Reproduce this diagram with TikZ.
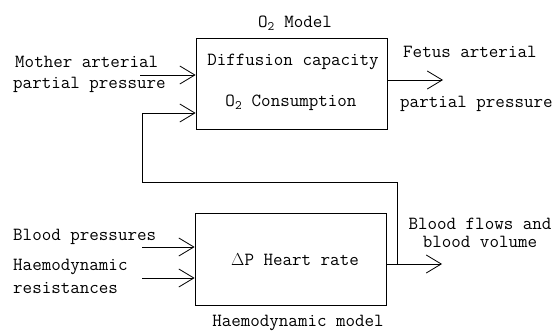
\documentclass[tikz,border=0pt]{standalone}
\usepackage{fontspec}
\usetikzlibrary{arrows.meta}
\begin{document}
\begin{tikzpicture}[x=1pt,y=-1pt,
  lbl/.style={inner sep=0pt,font=\ttfamily\fontsize{18.5}{20}\selectfont},
  blk/.style={draw,line width=0.8pt,inner sep=0pt},
  conn/.style={line width=0.8pt,-{Straight Barb[length=15pt,width=18pt,line width=0.8pt]}},
  wire/.style={line width=0.8pt}]
\useasboundingbox (0,0) rectangle (560,332);
% boxes
\node[blk,minimum width=191pt,minimum height=91pt] (top) at (291.5,83.5) {};
\node[blk,minimum width=191pt,minimum height=92pt] (bot) at (290.5,259) {};
% texts
\node[lbl] (t1) at (295,23) {O\textsubscript{2} Model};
\node[lbl] (t2) at (293,62) {Diffusion capacity};
\node[lbl] (t3) at (291,103) {O\textsubscript{2} Consumption};
\node[lbl,anchor=west] (ma) at (15,62) {Mother arterial};
\node[lbl,anchor=west] (pp) at (13,85) {partial pressure};
\node[lbl,anchor=west] (fa) at (403,52) {Fetus arterial};
\node[lbl,anchor=west] (pp2) at (400,104) {partial pressure};
\node[lbl,anchor=west] (bp) at (13,237) {Blood pressures};
\node[lbl,anchor=west] (hd) at (13,267) {Haemodynamic};
\node[lbl,anchor=west] (rs) at (13,288) {resistances};
\node[lbl] (hr) at (295,260) {$\Delta$P Heart rate};
\node[lbl] (hm) at (298,323) {Haemodynamic model};
\node[lbl,align=center] (bf) at (480,233) {Blood flows and\\[-2pt]blood volume};
% coordinates
\coordinate (a1) at (140,75);
\coordinate (a2) at (443,80);
\coordinate (b1) at (142,247);
\coordinate (b2) at (142,278);
\coordinate (b3) at (442,264);
\coordinate (f1) at (397,264);
\coordinate (f2) at (397,182);
\coordinate (f3) at (142,182);
\coordinate (f4) at (142,113);
% connectors
\draw[conn] (a1) -- (a1 -| top.west);
\draw[conn] (top.east |- a2) -- (a2);
\draw[conn] (b1) -- (b1 -| bot.west);
\draw[conn] (b2) -- (b2 -| bot.west);
\draw[conn] (bot.east |- b3) -- (b3);
\draw[conn] (f1) -- (f2) -- (f3) -- (f4) -- (f4 -| top.west);
\end{tikzpicture}
\end{document}
